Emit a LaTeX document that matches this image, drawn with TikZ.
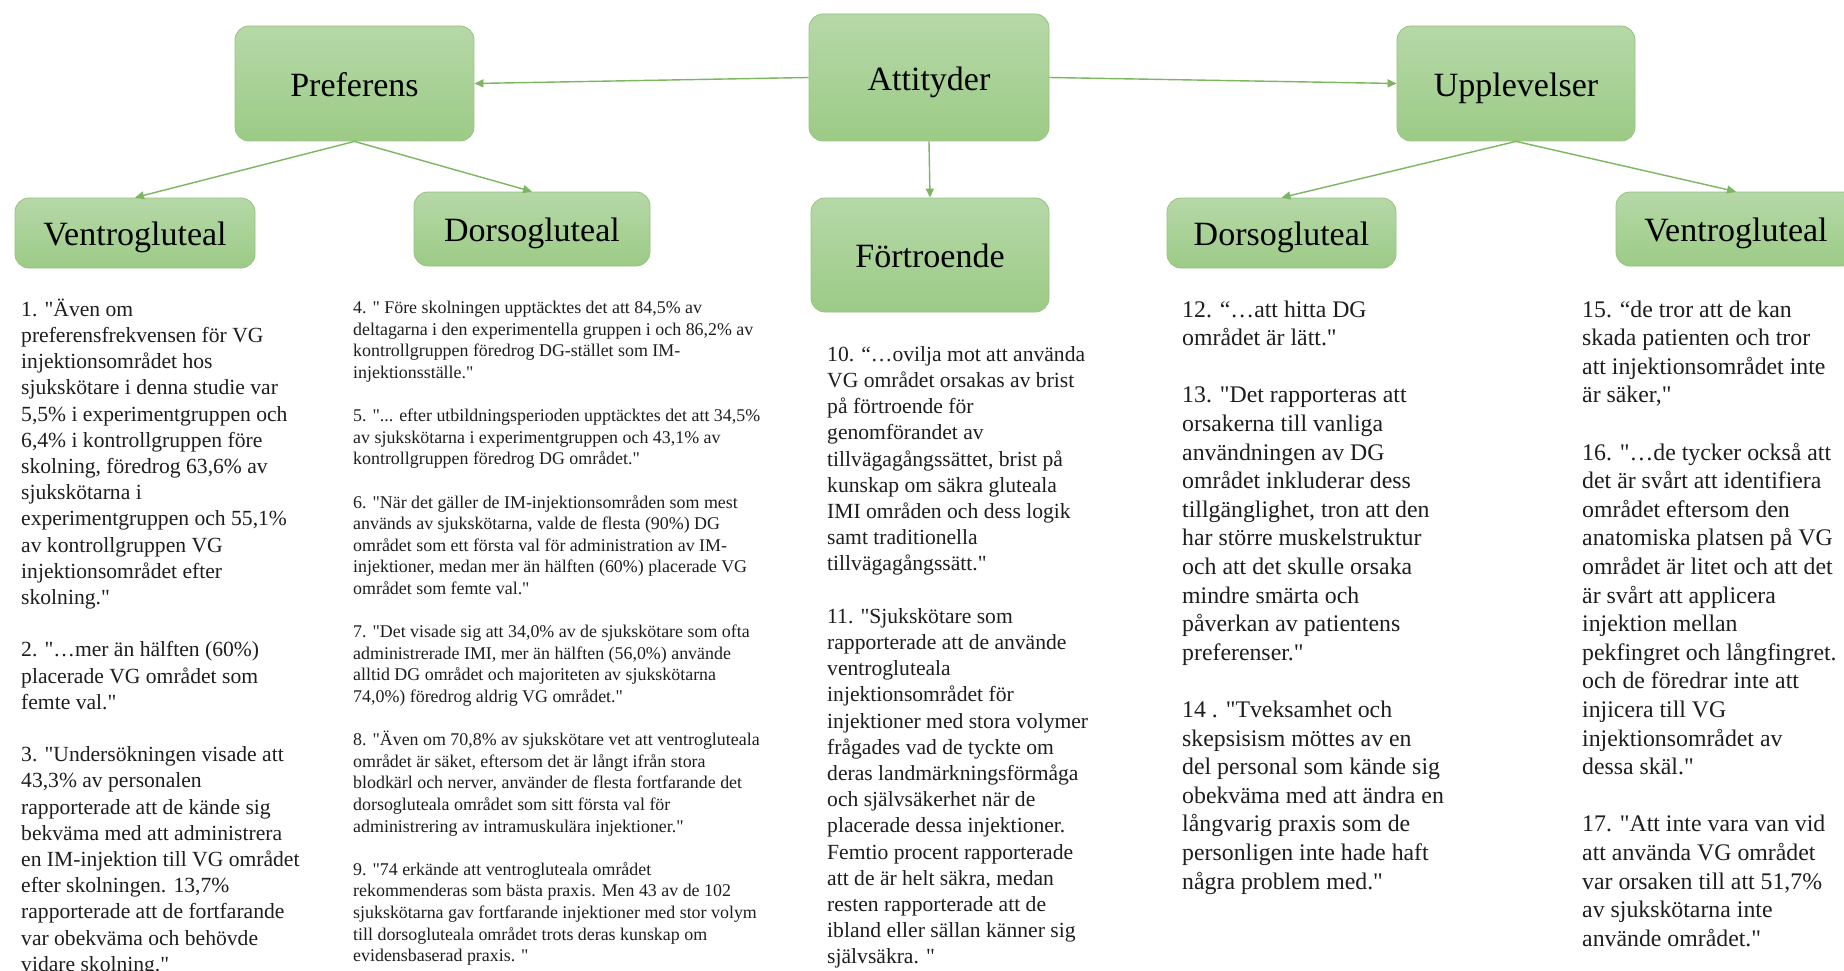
\documentclass[tikz,border=0pt]{standalone}
\usepackage{fontspec}
\setmainfont{Liberation Serif}[Ligatures=TeXOff]
\usetikzlibrary{arrows.meta}
\definecolor{boxtop}{HTML}{B6D8A8}
\definecolor{boxbot}{HTML}{9CCB86}
\definecolor{boxline}{HTML}{94C47E}
\definecolor{arr}{HTML}{7BB661}
\definecolor{txt}{HTML}{1E1E1E}
\begin{document}
\begin{tikzpicture}[x=1pt,y=-1pt,
  gbox/.style={rounded corners=14pt, top color=boxtop, bottom color=boxbot, draw=boxline,
    line width=0.8pt, font=\fontsize{34}{40}\selectfont, text=black, inner sep=0pt,
    text height=25.5pt, text depth=0pt},
  conn/.style={draw=arr, line width=1.4pt, -{Triangle[length=9pt,width=8pt]}},
  coltext/.style={anchor=north west, inner sep=0pt, align=left, text=txt},
  colA/.style={coltext, font=\fontsize{21.6}{26.2}\selectfont},
  colB/.style={coltext, font=\fontsize{17.9}{21.6}\selectfont},
  colC/.style={coltext, font=\fontsize{23.8}{28.6}\selectfont}
]
\useasboundingbox (0,0) rectangle (1844,971);
\clip (0,0) rectangle (1844,971);
\fill[white] (0,0) rectangle (1844,971);

% boxes
\node[gbox, minimum width=239pt, minimum height=115pt] (pref) at (354.5,83.5) {Preferens};
\node[gbox, minimum width=240pt, minimum height=127pt] (att) at (929,77.5) {Attityder};
\node[gbox, minimum width=238pt, minimum height=115pt] (upp) at (1516,83.5) {Upplevelser};
\node[gbox, minimum width=240pt, minimum height=70pt] (vl) at (135,233) {Ventrogluteal};
\node[gbox, minimum width=236pt, minimum height=74pt] (dl) at (532,229) {Dorsogluteal};
\node[gbox, minimum width=238pt, minimum height=114pt] (fort) at (930,255) {Förtroende};
\node[gbox, minimum width=229pt, minimum height=70pt] (dr) at (1281.5,233) {Dorsogluteal};
\node[gbox, minimum width=240pt, minimum height=74pt] (vr) at (1736,229) {Ventrogluteal};

% connectors
\draw[conn] (att.west) -- (pref.east);
\draw[conn] (att.east) -- (upp.west);
\draw[conn] (att.south) -- (fort.north);
\draw[conn] (pref.south) -- (vl.north);
\draw[conn] (pref.south) -- (dl.north);
\draw[conn] (upp.south) -- (dr.north);
\draw[conn] (upp.south) -- (vr.north);

% column 1
\node[colA] (t1) at (21,294.4) {\rule{0pt}{21.6pt}1. "Även om\\
preferensfrekvensen  för VG\\
injektionsområdet  hos\\
sjukskötare i denna studie var\\
5,5\% i experimentgruppen  och\\
6,4\% i kontrollgruppen  före\\
skolning,  föredrog 63,6\% av\\
sjukskötarna i\\
experimentgruppen  och 55,1\%\\
av kontrollgruppen  VG\\
injektionsområdet  efter\\
skolning."\\[26.2pt]
2. "…mer än hälften (60\%)\\
placerade  VG området som\\
femte val."\\[26.2pt]
3. "Undersökningen  visade att\\
43,3\% av personalen\\
rapporterade att de kände sig\\
bekväma med att administrera\\
en IM-injektion  till VG området\\
efter skolningen.  13,7\%\\
rapporterade att de fortfarande\\
var obekväma och behövde\\
vidare skolning."};

% column 2
\node[colB] (t2) at (353,295.5) {\rule{0pt}{17.9pt}4. " Före skolningen  upptäcktes det att 84,5\%  av\\
deltagarna i den experimentella  gruppen i och 86,2\% av\\
kontrollgruppen  föredrog DG-stället som IM-\\
injektionsställe."\\[21.6pt]
5. "... efter utbildningsperioden  upptäcktes det att 34,5\%\\
av sjukskötarna i experimentgruppen  och 43,1\%  av\\
kontrollgruppen  föredrog DG området."\\[21.6pt]
6. "När det gäller de IM-injektionsområden  som mest\\
används av sjukskötarna,  valde de flesta (90\%) DG\\
området som ett första val för administration  av IM-\\
injektioner,  medan mer än hälften (60\%) placerade VG\\
området som femte val."\\[21.6pt]
7. "Det visade sig att 34,0\% av de sjukskötare  som ofta\\
administrerade  IMI, mer än hälften (56,0\%)  använde\\
alltid  DG området och majoriteten  av sjukskötarna\\
74,0\%) föredrog  aldrig  VG området."\\[21.6pt]
8. "Även om 70,8\%  av sjukskötare  vet att ventrogluteala\\
området är säket, eftersom det är långt  ifrån stora\\
blodkärl  och nerver, använder  de flesta fortfarande det\\
dorsogluteala  området som sitt första val för\\
administrering  av intramuskulära  injektioner."\\[21.6pt]
9. "74 erkände  att ventrogluteala  området\\
rekommenderas  som bästa praxis. Men 43  av de 102\\
sjukskötarna  gav fortfarande injektioner  med stor volym\\
till  dorsogluteala  området trots deras kunskap om\\
evidensbaserad praxis.  "};

% column 3
\node[colA] (t3) at (827,339.4) {\rule{0pt}{21.6pt}10. “…ovilja  mot att använda\\
VG området orsakas av brist\\
på förtroende för\\
genomförandet av\\
tillvägagångssättet,  brist på\\
kunskap om säkra gluteala\\
IMI områden och dess logik\\
samt traditionella\\
tillvägagångssätt."\\[26.2pt]
11. "Sjukskötare som\\
rapporterade att de använde\\
ventrogluteala\\
injektionsområdet  för\\
injektioner  med stora volymer\\
frågades vad de tyckte om\\
deras landmärkningsförmåga\\
och självsäkerhet när de\\
placerade  dessa injektioner.\\
Femtio procent rapporterade\\
att de är helt säkra, medan\\
resten rapporterade att de\\
ibland  eller sällan  känner sig\\
självsäkra.  "};

% column 4
\node[colC] (t4) at (1182,293) {\rule{0pt}{23.8pt}12. “…att hitta DG\\
området  är lätt."\\[28.6pt]
13. "Det rapporteras att\\
orsakerna till vanliga\\
användningen  av DG\\
området inkluderar dess\\
tillgänglighet,  tron att den\\
har större muskelstruktur\\
och att det skulle orsaka\\
mindre  smärta och\\
påverkan  av patientens\\
preferenser."\\[28.6pt]
14 . "Tveksamhet  och\\
skepsisism möttes  av en\\
del personal som kände  sig\\
obekväma med att ändra en\\
långvarig praxis som de\\
personligen inte hade haft\\
några problem med."};

% column 5
\node[colC] (t5) at (1582,293) {\rule{0pt}{23.8pt}15. “de tror att de kan\\
skada patienten och tror\\
att injektionsområdet  inte\\
är säker,"\\[28.6pt]
16. "…de tycker  också att\\
det är svårt att identifiera\\
området eftersom  den\\
anatomiska  platsen på VG\\
området är litet och att det\\
är svårt att applicera\\
injektion  mellan\\
pekfingret  och långfingret.\\
och de föredrar inte  att\\
injicera till VG\\
injektionsområdet  av\\
dessa skäl."\\[28.6pt]
17. "Att  inte vara van vid\\
att använda  VG området\\
var orsaken till att 51,7\%\\
av sjukskötarna  inte\\
använde  området."};
\end{tikzpicture}
\end{document}
